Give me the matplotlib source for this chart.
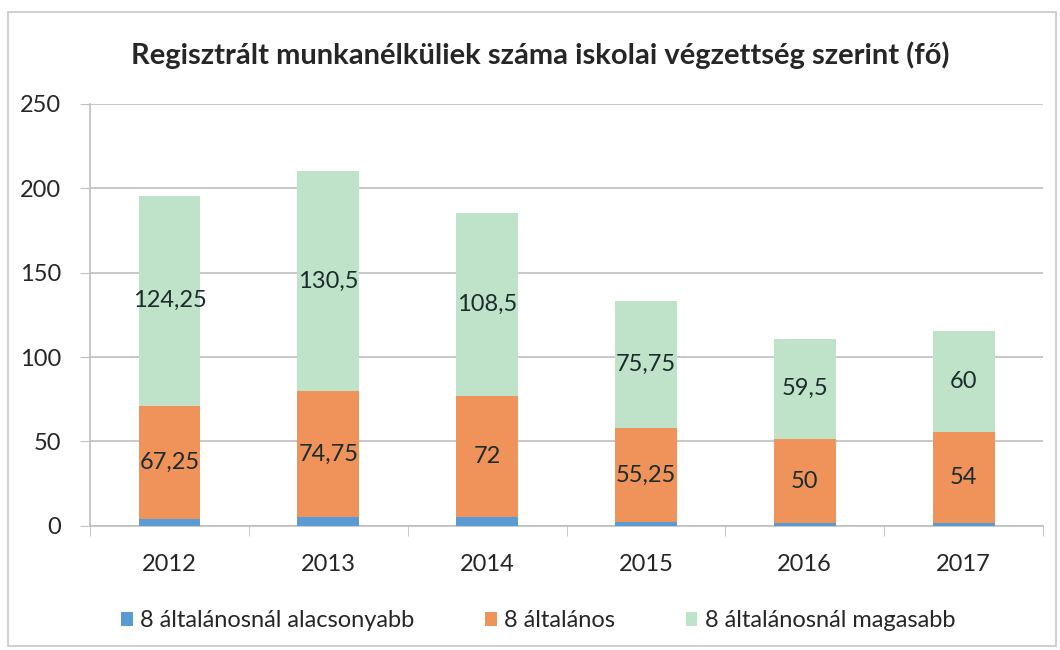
import matplotlib

matplotlib.use("Agg")
import matplotlib.pyplot as plt
import numpy as np
from matplotlib.patches import Rectangle

YEARS = ["2012", "2013", "2014", "2015", "2016", "2017"]
SERIES = ["8 általánosnál alacsonyabb", "8 általános", "8 általánosnál magasabb"]
BELOW_8 = [4, 5, 5, 2.5, 1.5, 1.5]
PRIMARY_8 = [67.25, 74.75, 72, 55.25, 50, 54]
ABOVE_8 = [124.25, 130.5, 108.5, 75.75, 59.5, 60]
PRIMARY_LABELS = ["67,25", "74,75", "72", "55,25", "50", "54"]
ABOVE_LABELS = ["124,25", "130,5", "108,5", "75,75", "59,5", "60"]

COLORS = ["#5B9BD5", "#F0935B", "#BFE3C8"]
TEXT = "#262626"

plt.rcParams["font.family"] = ["Lato", "DejaVu Sans"]

fig = plt.figure(figsize=(10.6, 6.5), dpi=100)
ax = fig.add_axes([0.085, 0.191, 0.899, 0.649])

x = np.arange(len(YEARS))
w = 0.39
b1 = np.array(BELOW_8)
b2 = np.array(PRIMARY_8)
b3 = np.array(ABOVE_8)

ax.bar(x, b1, w, color=COLORS[0], label=SERIES[0], zorder=3)
ax.bar(x, b2, w, bottom=b1, color=COLORS[1], label=SERIES[1], zorder=3)
ax.bar(x, b3, w, bottom=b1 + b2, color=COLORS[2], label=SERIES[2], zorder=3)

for i in range(len(YEARS)):
    ax.text(x[i], b1[i] + b2[i] / 2, PRIMARY_LABELS[i], ha="center", va="center",
            fontsize=17, color="#1c2b2b", zorder=4)
    ax.text(x[i], b1[i] + b2[i] + b3[i] / 2, ABOVE_LABELS[i], ha="center", va="center",
            fontsize=17, color="#1c2b2b", zorder=4)

ax.set_xlim(-0.5, len(YEARS) - 0.5)
ax.set_ylim(0, 250)
ax.set_yticks(range(0, 251, 50))
ax.yaxis.grid(True, color="#bfbfbf", linewidth=1.2, zorder=0)
ax.set_axisbelow(True)

ax.set_xticks(x)
ax.set_xticklabels(YEARS)
ax.set_xticks(np.arange(-0.5, len(YEARS)), minor=True)
ax.tick_params(axis="x", which="major", length=0, pad=20, labelsize=17, labelcolor=TEXT)
ax.tick_params(axis="x", which="minor", length=7, color="#bfbfbf")
ax.tick_params(axis="y", length=7, color="#bfbfbf", pad=14, labelsize=17, labelcolor=TEXT)

for s in ["top", "right"]:
    ax.spines[s].set_visible(False)
ax.spines["left"].set_color("#bfbfbf")
ax.spines["bottom"].set_color("#bfbfbf")
ax.spines["left"].set_linewidth(1.2)
ax.spines["bottom"].set_linewidth(1.2)

fig.text(0.51, 0.915, "Regisztrált munkanélküliek száma iskolai végzettség szerint (fő)",
         ha="center", va="center", fontsize=21, fontweight="bold", color=TEXT)

ax.legend(loc="center", bbox_to_anchor=(0.47, -0.225), ncol=3, frameon=False,
          fontsize=17, handlelength=0.5, handleheight=0.5, handletextpad=0.3,
          columnspacing=3.0, labelcolor=TEXT)

# chart frame
fig.patches.append(Rectangle((0.008, 0.006), 0.988, 0.976, transform=fig.transFigure,
                             fill=False, edgecolor="#c8c8c8", linewidth=1.2))

fig.savefig("out.png", dpi=100)
